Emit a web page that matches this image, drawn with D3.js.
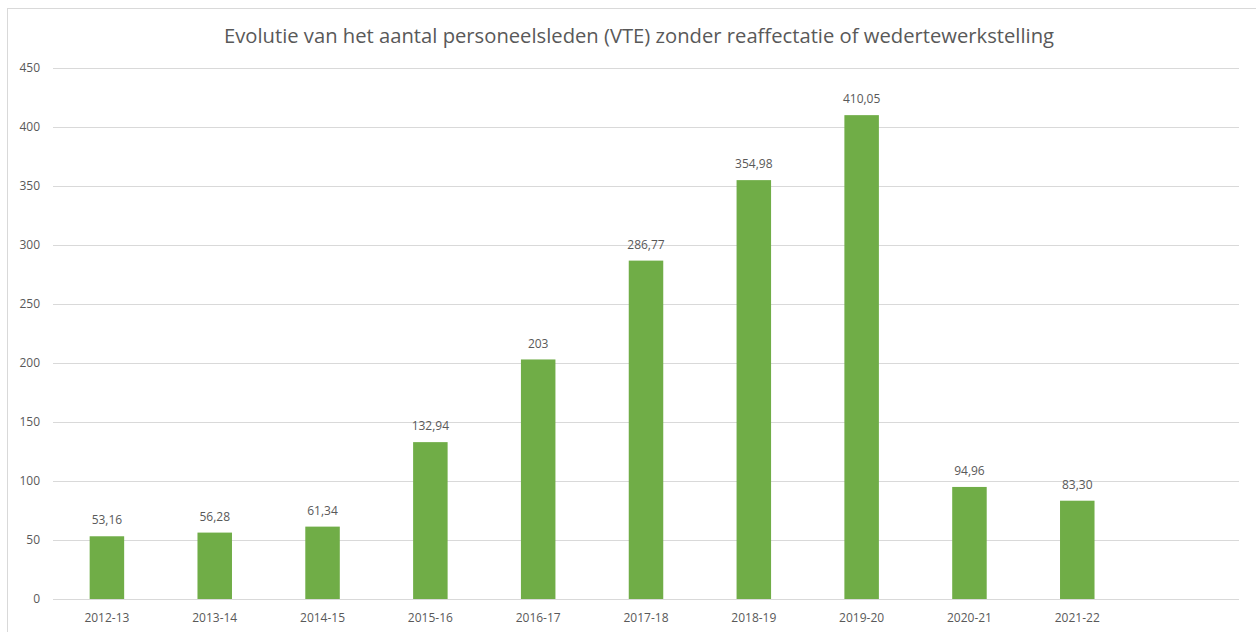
<!DOCTYPE html>
<html>
<head>
<meta charset="utf-8">
<script src="https://cdn.jsdelivr.net/npm/d3@7"></script>
<style>
  body { margin: 0; background: #fff; }
  text { font-family: "Open Sans", "Noto Sans", sans-serif; fill: #595959; }
</style>
</head>
<body>
<div id="chart"></div>
<script>
var years = ["2012-13", "2013-14", "2014-15", "2015-16", "2016-17", "2017-18", "2018-19", "2019-20", "2020-21", "2021-22", ""];
var fte = [53.16, 56.28, 61.34, 132.94, 203, 286.77, 354.98, 410.05, 94.96, 83.30];
var fteLabels = ["53,16", "56,28", "61,34", "132,94", "203", "286,77", "354,98", "410,05", "94,96", "83,30"];
var yTicks = [0, 50, 100, 150, 200, 250, 300, 350, 400, 450];
var title = "Evolutie van het aantal personeelsleden (VTE) zonder reaffectatie of wedertewerkstelling";

var W = 1256, H = 632,
    margin = { top: 68, right: 17, bottom: 33, left: 53 },
    width = W - margin.left - margin.right,
    height = H - margin.top - margin.bottom;

var svg = d3.select("#chart").append("svg")
    .attr("width", W)
    .attr("height", H);

// chart area border
svg.append("rect")
    .attr("x", 7.5).attr("y", 8.5)
    .attr("width", W).attr("height", H)
    .attr("fill", "none").attr("stroke", "#d9d9d9");

svg.append("text")
    .attr("x", 639).attr("y", 43)
    .attr("text-anchor", "middle")
    .style("font-size", "20px")
    .attr("textLength", 830)
    .attr("lengthAdjust", "spacingAndGlyphs")
    .text(title);

var g = svg.append("g")
    .attr("transform", "translate(" + margin.left + "," + margin.top + ")");

var x = d3.scaleBand().domain(years).range([0, width]).paddingInner(0.68).paddingOuter(0.34);
var y = d3.scaleLinear().domain([0, 450]).range([height, 0]);

g.selectAll(".grid")
    .data(yTicks)
    .enter().append("line")
      .attr("class", "grid")
      .attr("x1", 0).attr("x2", width)
      .attr("y1", function(d) { return Math.round(y(d)) + 0.5; })
      .attr("y2", function(d) { return Math.round(y(d)) + 0.5; })
      .attr("stroke", "#d9d9d9");

g.selectAll(".ylab")
    .data(yTicks)
    .enter().append("text")
      .attr("class", "ylab")
      .attr("x", -13)
      .attr("y", function(d) { return y(d); })
      .attr("dy", "0.35em")
      .attr("text-anchor", "end")
      .style("font-size", "12px")
      .text(function(d) { return d; });

g.selectAll(".xlab")
    .data(years.filter(function(d) { return d !== ""; }))
    .enter().append("text")
      .attr("class", "xlab")
      .attr("x", function(d) { return x(d) + x.bandwidth() / 2; })
      .attr("y", height + 19)
      .attr("dy", "0.35em")
      .attr("text-anchor", "middle")
      .style("font-size", "12px")
      .text(function(d) { return d; });

g.selectAll(".bar")
    .data(fte)
    .enter().append("rect")
      .attr("class", "bar")
      .attr("x", function(d, i) { return x(years[i]); })
      .attr("y", function(d) { return y(d); })
      .attr("width", x.bandwidth())
      .attr("height", function(d) { return height - y(d); })
      .attr("fill", "#70ad47");

g.selectAll(".val")
    .data(fte)
    .enter().append("text")
      .attr("class", "val")
      .attr("x", function(d, i) { return x(years[i]) + x.bandwidth() / 2; })
      .attr("y", function(d) { return y(d) - 16; })
      .attr("dy", "0.35em")
      .attr("text-anchor", "middle")
      .style("font-size", "12px")
      .text(function(d, i) { return fteLabels[i]; });
</script>
</body>
</html>
